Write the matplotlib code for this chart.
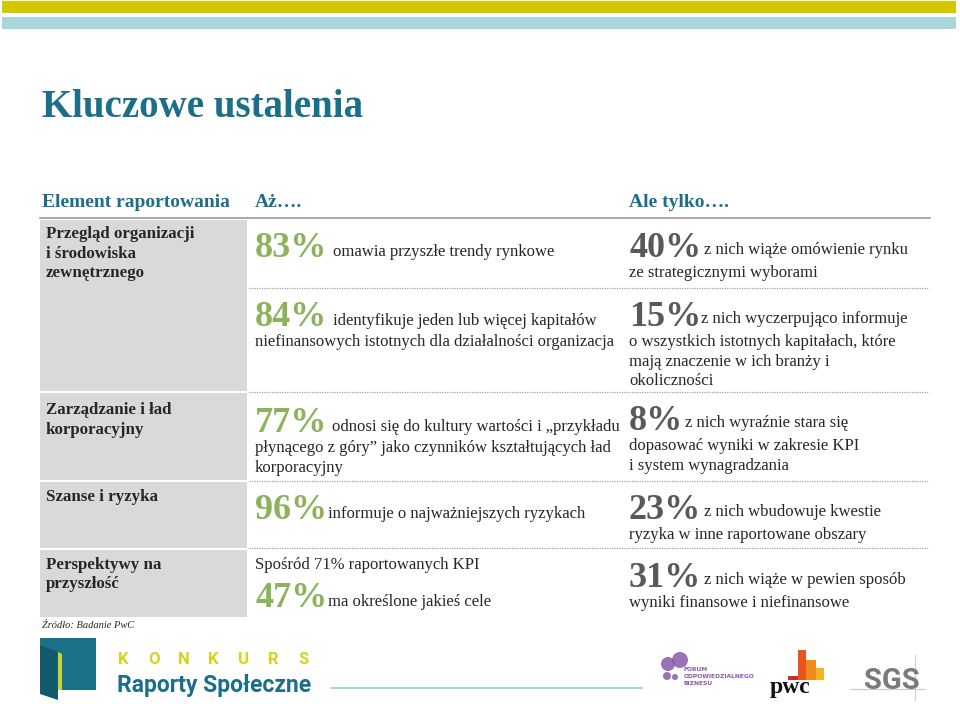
"""
Kluczowe ustalenia - slide recreated with matplotlib (text + patches)
"""
import matplotlib
matplotlib.use('Agg')
import matplotlib.pyplot as plt
from matplotlib.patches import Rectangle, Polygon, Circle

# ---- content ----
title = "Kluczowe ustalenia"
headers = ["Element raportowania", "Aż….", "Ale tylko…."]

row_labels = [
    ["Przegląd organizacji", "i środowiska", "zewnętrznego"],
    ["Zarządzanie i ład", "korporacyjny"],
    ["Szanse i ryzyka"],
    ["Perspektywy na", "przyszłość"],
]

mid_pcts = ["83%", "84%", "77%", "96%", "47%"]
mid_first = [
    "omawia przyszłe trendy rynkowe",
    "identyfikuje jeden lub więcej kapitałów",
    "odnosi się do kultury wartości i „przykładu",
    "informuje o najważniejszych ryzykach",
    "ma określone jakieś cele",
]
mid_rest = [
    [],
    ["niefinansowych istotnych dla działalności organizacja"],
    ["płynącego z góry” jako czynników kształtujących ład", "korporacyjny"],
    [],
    [],
]
kpi_intro = "Spośród 71% raportowanych KPI"

right_pcts = ["40%", "15%", "8%", "23%", "31%"]
right_first = [
    "z nich wiąże omówienie rynku",
    "z nich wyczerpująco informuje",
    "z nich wyraźnie stara się",
    "z nich wbudowuje kwestie",
    "z nich wiąże w pewien sposób",
]
right_rest = [
    ["ze strategicznymi wyborami"],
    ["o wszystkich istotnych kapitałach, które", "mają znaczenie w ich branży i", "okoliczności"],
    ["dopasować wyniki w zakresie KPI", "i system wynagradzania"],
    ["ryzyka w inne raportowane obszary"],
    ["wyniki finansowe i niefinansowe"],
]
source = "Źródło: Badanie PwC"
contest = "KONKURS"

# ---- layout (pixels, y down) ----
row_spans = [(220, 391), (393, 480), (482, 548), (550, 617)]
label_y = [238, 414, 501, 569]
mid_y = [257, 326, 432, 519, 607]
mid_gap = [6, 6, 5, 1, 1]
kpi_y = 569
right_y = [257, 326, 430, 519, 587]
right_gap = [3, 0, 2, 3, 3]
sep_y = [288, 392, 481, 548]
line_h = 19.5

TEAL = "#1b6f88"
GREEN = "#8cb35c"
DGRAY = "#595959"
TXT = "#262626"
SERIF = "Liberation Serif"

fig = plt.figure(figsize=(9.6, 7.04), dpi=100)
ax = fig.add_axes([0, 0, 1, 1])
ax.set_xlim(0, 960)
ax.set_ylim(704, 0)
ax.axis('off')
renderer = fig.canvas.get_renderer()

# top bands
ax.add_patch(Rectangle((2, 1), 954, 12, color="#d3c800", lw=0))
ax.add_patch(Rectangle((2, 17), 954, 12, color="#a8d7db", lw=0))

ax.text(42, 117, title, fontsize=28, fontweight="bold", color=TEAL, family=SERIF)

# headers
for x, h in zip([42, 255, 629], headers):
    ax.text(x, 207, h, fontsize=14, fontweight="bold", color=TEAL, family=SERIF)
ax.plot([40, 930], [218, 218], color="#9a9a9a", lw=1.2)

# gray label column
for (y0, y1), lines, ly in zip(row_spans, row_labels, label_y):
    ax.add_patch(Rectangle((40, y0), 207, y1 - y0, color="#d9d9d9", lw=0))
    for i, s in enumerate(lines):
        ax.text(46, ly + i * line_h, s, fontsize=12.2, fontweight="bold", color=TXT, family=SERIF)

# dotted separators
for y in sep_y:
    ax.plot([249, 928], [y, y], color="#a0a0a0", lw=0.9, ls=(0, (1, 1)))


def block(x0, pct, first, rest, y, gap, color, dy):
    t = ax.text(x0, y, pct, fontsize=26, fontweight="bold", color=color, family=SERIF)
    x1 = t.get_window_extent(renderer).x1
    ax.text(x1 + gap, y + dy, first, fontsize=12, color=TXT, family=SERIF)
    for i, s in enumerate(rest):
        ax.text(x0, y + 20 + i * line_h, s, fontsize=12, color=TXT, family=SERIF)


# middle column
ax.text(255, kpi_y, kpi_intro, fontsize=12, color=TXT, family=SERIF)
for pct, first, rest, y, g in zip(mid_pcts, mid_first, mid_rest, mid_y, mid_gap):
    block(255, pct, first, rest, y, g, GREEN, -1)

# right column
for pct, first, rest, y, g in zip(right_pcts, right_first, right_rest, right_y, right_gap):
    block(629, pct, first, rest, y, g, DGRAY, -3)

ax.text(42, 628, source, fontsize=7.5, style="italic", color=TXT, family=SERIF)

# ---- footer logos ----
ax.add_patch(Rectangle((40, 638), 56, 52, color="#1a7188", lw=0))
ax.add_patch(Polygon([[40, 645], [58, 652], [58, 700], [40, 694]], closed=True, color="#135a6c", lw=0))
ax.add_patch(Polygon([[58, 652], [62, 654], [62, 690], [58, 690]], closed=True, color="#c9d13a", lw=0))
for i, ch in enumerate(contest):
    ax.text(118 + i * 30, 664, ch, fontsize=12, fontweight="bold", color="#d8d21c", family="Roboto")
ax.text(117, 692, "Raporty Społeczne", fontsize=16.5, fontweight="bold", color=TEAL, family="Roboto")
ax.plot([332, 642], [688, 688], color="#a8d7db", lw=1.5)

# FOB
for cx, cy, r in [(668, 664, 7), (680, 660, 8), (667, 676, 4), (675, 677, 3)]:
    ax.add_patch(Circle((cx, cy), r, color="#8a5aa8", lw=0, alpha=0.85))
for i, s in enumerate(["FORUM", "ODPOWIEDZIALNEGO", "BIZNESU"]):
    ax.text(684, 671 + i * 7, s, fontsize=4.3, fontweight="bold", color="#8a5aa8", family="DejaVu Sans")

# PwC
ax.add_patch(Rectangle((798, 650), 8, 30, color="#e8551b", lw=0))
ax.add_patch(Rectangle((806, 660), 10, 20, color="#f08a1c", lw=0))
ax.add_patch(Rectangle((816, 668), 8, 12, color="#f4b324", lw=0))
ax.add_patch(Rectangle((788, 676), 10, 4, color="#d02a2a", lw=0))
ax.text(770, 693, "pwc", fontsize=17, fontweight="bold", color="#111111", family=SERIF)

# SGS
ax.text(864, 689, "SGS", fontsize=21, fontweight="bold", color="#7a7a7a", family="Roboto")
ax.plot([850, 925], [689, 689], color="#c8c8c8", lw=0.8)
ax.plot([915, 915], [655, 700], color="#d0d0d0", lw=0.8)

fig.savefig("out.png", dpi=100)
